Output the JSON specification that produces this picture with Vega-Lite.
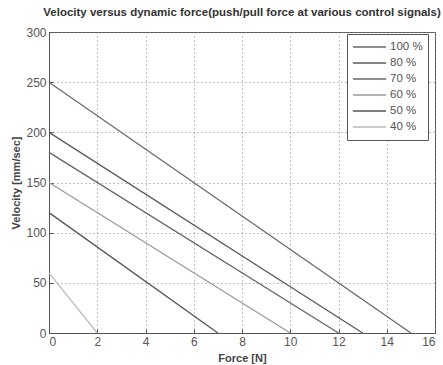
{
  "$schema": "https://vega.github.io/schema/vega-lite/v6.json",
  "width": 386,
  "height": 301,
  "autosize": {"type": "none"},
  "padding": {"left": 49, "top": 32, "right": 8, "bottom": 32},
  "background": "white",
  "title": {
    "text": "Velocity versus dynamic force(push/pull force at various control signals)",
    "font": "Liberation Sans",
    "fontSize": 11.5,
    "fontWeight": "bold",
    "color": "#333",
    "offset": 8,
    "anchor": "middle"
  },
  "config": {
    "view": {"stroke": "#555", "strokeWidth": 1},
    "axis": {
      "labelFont": "Liberation Sans",
      "labelFontSize": 12,
      "labelColor": "#555",
      "titleFont": "Liberation Sans",
      "titleFontSize": 11,
      "titleFontWeight": "bold",
      "titleColor": "#444",
      "grid": true,
      "gridColor": "#888",
      "gridDash": [1, 3],
      "gridOpacity": 1,
      "domainColor": "#555",
      "tickColor": "#555",
      "tickSize": -4,
      "labelPadding": 7
    }
  },
  "data": {
    "values": [
      {"signal": "100 %", "force": 0, "velocity": 250},
      {"signal": "100 %", "force": 15, "velocity": 0},
      {"signal": "80 %", "force": 0, "velocity": 200},
      {"signal": "80 %", "force": 13, "velocity": 0},
      {"signal": "70 %", "force": 0, "velocity": 180},
      {"signal": "70 %", "force": 12, "velocity": 0},
      {"signal": "60 %", "force": 0, "velocity": 150},
      {"signal": "60 %", "force": 10, "velocity": 0},
      {"signal": "50 %", "force": 0, "velocity": 120},
      {"signal": "50 %", "force": 7, "velocity": 0},
      {"signal": "40 %", "force": 0, "velocity": 60},
      {"signal": "40 %", "force": 2, "velocity": 0}
    ]
  },
  "mark": {"type": "line", "strokeWidth": 1.3},
  "encoding": {
    "x": {
      "field": "force",
      "type": "quantitative",
      "scale": {"domain": [0, 16], "nice": false},
      "axis": {"values": [0, 2, 4, 6, 8, 10, 12, 14, 16], "title": "Force [N]", "titlePadding": 5}
    },
    "y": {
      "field": "velocity",
      "type": "quantitative",
      "scale": {"domain": [0, 300], "nice": false},
      "axis": {"values": [0, 50, 100, 150, 200, 250, 300], "title": "Velocity [mm/sec]", "titlePadding": 4}
    },
    "color": {
      "field": "signal",
      "type": "nominal",
      "scale": {
        "domain": ["100 %", "80 %", "70 %", "60 %", "50 %", "40 %"],
        "range": ["#6a6a6a", "#5a5a5a", "#666666", "#9a9a9a", "#555555", "#bbbbbb"]
      },
      "legend": {
        "title": null,
        "orient": "none",
        "legendX": 298,
        "legendY": 2,
        "direction": "vertical",
        "symbolType": "stroke",
        "symbolSize": 1100,
        "symbolStrokeWidth": 1.3,
        "clipHeight": 16,
        "labelFont": "Liberation Sans",
        "labelFontSize": 11.5,
        "labelColor": "#555",
        "strokeColor": "#555",
        "fillColor": "white",
        "padding": 5,
        "rowPadding": 0,
        "labelOffset": 3
      }
    }
  }
}
